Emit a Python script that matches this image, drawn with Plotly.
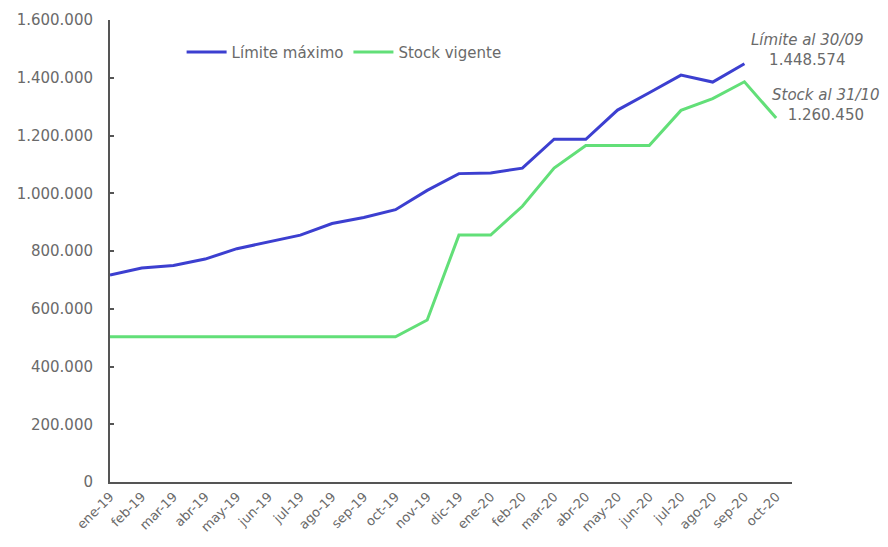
import plotly.graph_objects as go

months = ["ene-19", "feb-19", "mar-19", "abr-19", "may-19", "jun-19", "jul-19", "ago-19",
          "sep-19", "oct-19", "nov-19", "dic-19", "ene-20", "feb-20", "mar-20", "abr-20",
          "may-20", "jun-20", "jul-20", "ago-20", "sep-20", "oct-20"]

limite_maximo = [717000, 741000, 750000, 772000, 808000, 831000, 855000, 895000,
                 916000, 943000, 1010000, 1068000, 1070000, 1087000, 1187000, 1187000,
                 1288000, 1348000, 1409000, 1385000, 1448574, None]

stock_vigente = [503000, 503000, 503000, 503000, 503000, 503000, 503000, 503000,
                 503000, 503000, 561000, 855000, 855000, 955000, 1087000, 1165000,
                 1165000, 1165000, 1287000, 1328000, 1386000, 1260450]

y_tickvals = [0, 200000, 400000, 600000, 800000, 1000000, 1200000, 1400000, 1600000]
y_ticktext = ["0", "200.000", "400.000", "600.000", "800.000", "1.000.000",
              "1.200.000", "1.400.000", "1.600.000"]

FONT = "DejaVu Sans"
GRAY = "#6a6a6a"

fig = go.Figure()
fig.add_trace(go.Scatter(x=list(range(len(months))), y=limite_maximo, mode="lines",
                         name="Límite máximo", line=dict(color="#3c3fd0", width=3)))
fig.add_trace(go.Scatter(x=list(range(len(months))), y=stock_vigente, mode="lines",
                         name="Stock vigente", line=dict(color="#62df78", width=3)))

fig.update_layout(
    width=888, height=547,
    margin=dict(l=110, r=96, t=20, b=65),
    plot_bgcolor="white", paper_bgcolor="white",
    font=dict(family=FONT, color=GRAY, size=13),
    showlegend=True,
    legend=dict(orientation="h", x=0.105, y=0.93, xanchor="left", yanchor="middle",
                font=dict(size=15, color=GRAY, family=FONT), bgcolor="rgba(0,0,0,0)",
                itemwidth=40, tracegroupgap=0),
    xaxis=dict(
        tickmode="array", tickvals=list(range(len(months))), ticktext=months,
        range=[0, 21.5], tickangle=-45, showgrid=False, zeroline=False,
        showline=True, linecolor="#555555", linewidth=2, ticks="",
        tickfont=dict(size=13, color=GRAY, family=FONT), fixedrange=True,
    ),
    yaxis=dict(
        tickmode="array", tickvals=y_tickvals, ticktext=y_ticktext,
        range=[0, 1600000], showgrid=False, zeroline=False,
        showline=True, linecolor="#555555", linewidth=2,
        ticks="inside", ticklen=4, tickcolor="#555555", tickwidth=1.5,
        tickfont=dict(size=15, color=GRAY, family=FONT), ticklabelstandoff=12,
    ),
    annotations=[
        dict(xref="paper", yref="paper", x=1.022, y=0.935, xanchor="center", yanchor="middle",
             text="<i>Límite al 30/09</i><br>1.448.574", showarrow=False,
             font=dict(size=15, color=GRAY, family=FONT), align="center"),
        dict(xref="paper", yref="paper", x=1.05, y=0.816, xanchor="center", yanchor="middle",
             text="<i>Stock al 31/10</i><br>1.260.450", showarrow=False,
             font=dict(size=15, color=GRAY, family=FONT), align="center"),
    ],
)

fig.write_html("out.html")
